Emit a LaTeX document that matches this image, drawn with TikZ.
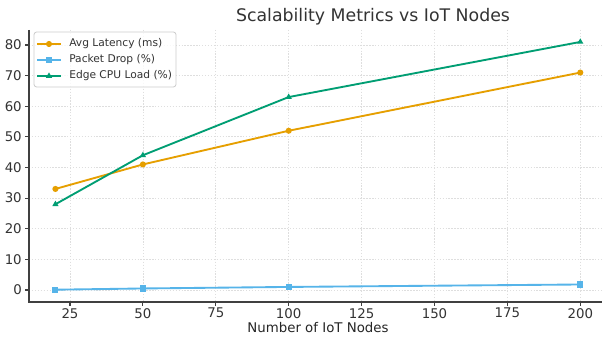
\documentclass[tikz,border=0pt]{standalone}
\usepackage{fontspec}
\setmainfont{DejaVu Sans}
\usetikzlibrary{shapes.geometric}
\begin{document}
\begin{tikzpicture}[x=0.75pt,y=-0.75pt,
  grid/.style={draw=black!13,line width=0.6pt,dash pattern=on 1pt off 1.2pt},
  spine/.style={draw=black!75,line width=1.2pt},
  ticklab/.style={font=\fontsize{10}{12}\selectfont,text=black!80,inner sep=0pt},
  series/.style={line width=1.4pt},
  lat/.style={circle,fill=latc,inner sep=0pt,minimum size=4.6pt},
  pkt/.style={rectangle,fill=pktc,inner sep=0pt,minimum size=4.6pt},
  cpu/.style={regular polygon,regular polygon sides=3,fill=cpuc,inner sep=0pt,minimum size=5.4pt},
  legtxt/.style={font=\fontsize{8}{10}\selectfont,text=black!80,anchor=west,inner sep=0pt}]
\definecolor{latc}{HTML}{E69F00}
\definecolor{pktc}{HTML}{56B4E9}
\definecolor{cpuc}{HTML}{009E73}
\useasboundingbox[fill=white] (0,0) rectangle (602,338);
% data -> pixel maps: x = -2.9 + 2.916 v,  y = 290 - 3.0625 v
\def\px#1{\fpeval{-2.9+2.916*(#1)}}
\def\py#1{\fpeval{290-3.0625*(#1)}}
% grid
\foreach \v in {25,50,...,200}
  \draw[grid] ({\px{\v}},30) -- ({\px{\v}},302);
\foreach \v in {0,10,...,80}
  \draw[grid] (29,{\py{\v}}) -- (602,{\py{\v}});
% spines and ticks
\draw[spine] (29,30) -- (29,302) -- (602,302);
\foreach \v in {25,50,...,200}{
  \draw[black!75,line width=0.8pt] ({\px{\v}},302) -- ({\px{\v}},306);
  \node[ticklab,anchor=north] at ({\px{\v}},308) {\v};}
\foreach \v in {0,10,...,80}{
  \draw[black!75,line width=0.8pt] (25,{\py{\v}}) -- (29,{\py{\v}});
  \node[ticklab,anchor=east] at (22,{\py{\v}}) {\v};}
% titles
\node[font=\fontsize{13}{16}\selectfont,text=black!80] (title) at (373,17) {Scalability Metrics vs IoT Nodes};
\node[font=\fontsize{10}{12}\selectfont,text=black!85] (xlab) at (318,328) {Number of IoT Nodes};
% series
\foreach \n/\a/\b/\c in {1/20/33/28, 2/50/41/44, 3/100/52/63, 4/200/71/81}{
  \coordinate (L\n) at ({\px{\a}},{\py{\b}});
  \coordinate (C\n) at ({\px{\a}},{\py{\c}});}
\coordinate (P1) at ({\px{20}},{\py{0.1}});
\coordinate (P2) at ({\px{50}},{\py{0.5}});
\coordinate (P3) at ({\px{100}},{\py{1.0}});
\coordinate (P4) at ({\px{200}},{\py{1.8}});
\draw[series,pktc] (P1) -- (P2) -- (P3) -- (P4);
\draw[series,latc] (L1) -- (L2) -- (L3) -- (L4);
\draw[series,cpuc] (C1) -- (C2) -- (C3) -- (C4);
\foreach \n in {1,...,4}{
  \node[pkt] (pm\n) at (P\n) {};
  \node[lat] (lm\n) at (L\n) {};
  \node[cpu] (cm\n) at (C\n) {};}
% legend
\draw[draw=black!20,fill=white,fill opacity=0.8,rounded corners=2pt,line width=0.6pt] (34,32) rectangle (176,87);
\foreach \y/\col/\shp/\txt [count=\i] in {44/latc/lat/Avg Latency (ms),60/pktc/pkt/Packet Drop (\%),76/cpuc/cpu/Edge CPU Load (\%)}{
  \draw[series,\col] (37,\y) -- (61,\y);
  \node[\shp] (leg\i) at (49,\y) {};
  \node[legtxt] (legt\i) at (69,\y) {\txt};}
\end{tikzpicture}
\end{document}
